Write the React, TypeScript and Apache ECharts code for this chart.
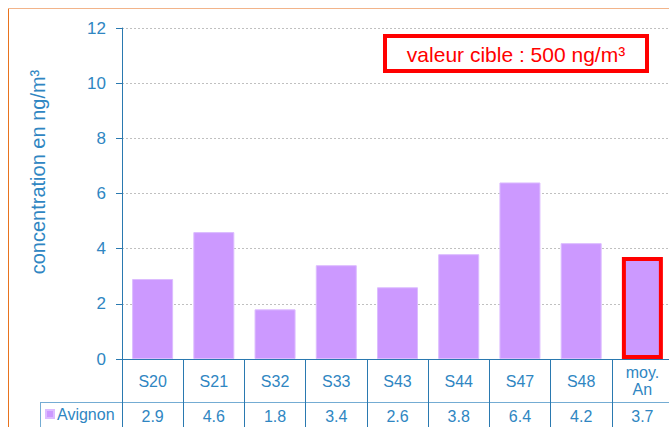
import React, { useEffect, useRef } from "react";
import * as echarts from "echarts";

const categories = ["S20", "S21", "S32", "S33", "S43", "S44", "S47", "S48", "moy.\nAn"];
const avignon = [2.9, 4.6, 1.8, 3.4, 2.6, 3.8, 6.4, 4.2, 3.7];
const yTicks = [0, 2, 4, 6, 8, 10, 12];
const seriesName = "Avignon";
const targetLabel = "valeur cible : 500 ng/m³";
const yTitle = "concentration en ng/m³";

const BLUE = "#2f86c2";
const AXIS = "#2a79b0";
const LIGHT = "#74acd3";
const PURPLE = "#cc99ff";
const FONT = "Liberation Sans";

export default function App() {
  const ref = useRef<HTMLDivElement>(null);
  useEffect(() => {
    const chart = echarts.init(ref.current!, null, { renderer: "svg" });
    const last = avignon.length - 1;
    chart.setOption({
      animation: false,
      textStyle: { fontFamily: FONT },
      grid: { left: 122, top: 28, right: 7, bottom: 68 },
      legend: {
        data: [seriesName],
        left: 45,
        top: 406,
        padding: 0,
        itemWidth: 8,
        itemHeight: 8,
        itemGap: 4,
        icon: "rect",
        textStyle: { fontSize: 16, color: BLUE, fontFamily: FONT, padding: [0, 0, 0, -2] },
      },
      xAxis: [
        {
          type: "category",
          data: categories,
          position: "bottom",
          axisLine: { show: true, lineStyle: { color: AXIS, width: 1 } },
          axisTick: { show: true, length: 43, lineStyle: { color: AXIS, width: 1 } },
          axisLabel: {
            fontSize: 16,
            color: BLUE,
            margin: 22,
            verticalAlign: "middle",
            lineHeight: 17,
            interval: 0,
            fontFamily: FONT,
          },
        },
        {
          type: "category",
          data: avignon.map((v) => v.toFixed(1)),
          position: "bottom",
          offset: 43,
          axisLine: { show: true, lineStyle: { color: LIGHT, width: 1 } },
          axisTick: { show: true, length: 30, lineStyle: { color: AXIS, width: 1 } },
          axisLabel: {
            fontSize: 16,
            color: BLUE,
            margin: 14,
            verticalAlign: "middle",
            interval: 0,
            fontFamily: FONT,
          },
        },
      ],
      yAxis: {
        type: "value",
        min: yTicks[0],
        max: yTicks[yTicks.length - 1],
        interval: 2,
        axisLine: { show: true, lineStyle: { color: AXIS, width: 1 } },
        axisTick: { show: true, length: 6, lineStyle: { color: AXIS } },
        axisLabel: { fontSize: 17, color: BLUE, margin: 16, fontFamily: FONT },
        splitLine: { show: true, lineStyle: { color: "#c0c0c0", type: [2, 2], width: 1 } },
      },
      series: [
        {
          name: seriesName,
          type: "bar",
          xAxisIndex: 0,
          barWidth: 41,
          data: avignon.map((v, i) =>
            i === last
              ? { value: v, itemStyle: { color: PURPLE, borderColor: "#ff0000", borderWidth: 4 } }
              : { value: v }
          ),
          itemStyle: { color: PURPLE, borderColor: "#dcbcff", borderWidth: 1 },
        },
      ],
      graphic: [
        { type: "line", shape: { x1: 8.5, y1: 8, x2: 8.5, y2: 427 }, style: { stroke: "#e8731e", lineWidth: 1 } },
        { type: "line", shape: { x1: 8, y1: 8.5, x2: 680, y2: 8.5 }, style: { stroke: "#f2b48a", lineWidth: 1 } },
        { type: "line", shape: { x1: 40, y1: 402.5, x2: 122, y2: 402.5 }, style: { stroke: LIGHT, lineWidth: 1 } },
        { type: "line", shape: { x1: 40.5, y1: 402, x2: 40.5, y2: 427 }, style: { stroke: LIGHT, lineWidth: 1 } },
        {
          type: "text",
          x: 38,
          y: 172,
          rotation: Math.PI / 2,
          style: {
            text: yTitle,
            fill: BLUE,
            fontSize: 20,
            fontFamily: FONT,
            align: "center",
            verticalAlign: "middle",
          },
        },
        {
          type: "rect",
          shape: { x: 385, y: 36, width: 262, height: 35 },
          style: { fill: "#ffffff", stroke: "#ff0000", lineWidth: 4 },
          z: 100,
        },
        {
          type: "text",
          x: 516,
          y: 54,
          style: {
            text: targetLabel,
            fill: "#ff0000",
            fontSize: 21,
            fontFamily: FONT,
            align: "center",
            verticalAlign: "middle",
          },
          z: 101,
        },
      ],
    });
    return () => chart.dispose();
  }, []);
  return (
    <div style={{ position: "fixed", left: 0, top: 0, width: 669, height: 427, overflow: "hidden", background: "#fff" }}>
      <div ref={ref} style={{ width: 680, height: 427 }} />
    </div>
  );
}
